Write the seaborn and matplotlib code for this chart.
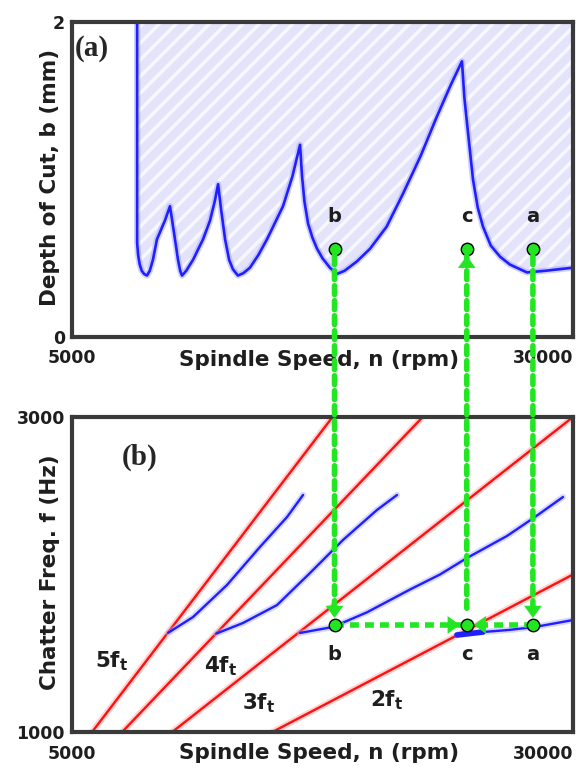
import matplotlib
matplotlib.use("Agg")
import matplotlib.pyplot as plt
import seaborn as sns
from matplotlib.patches import ConnectionPatch

# (a) stability lobe boundary
lobe_speed = [8250, 8250, 8300, 8380, 8480, 8600, 8740, 8880, 9040, 9240, 9640, 9890,
              10140, 10290, 10400, 10490, 10700, 11040, 11540, 11890, 12140, 12290,
              12440, 12640, 12840, 13030, 13280, 13550, 13880, 14300, 14730, 15530, 16000, 16380,
              16480, 16600, 16780, 17000, 17230, 17500, 17870, 18220, 18600, 19220, 19870,
              20700, 21520, 22400, 23210, 23900, 24460,
              24580, 24710, 25010, 25250, 25510, 25900, 26360, 26850, 27360, 27700, 28600, 30000]
lobe_depth = [2.00, 0.60, 0.52, 0.46, 0.42, 0.40, 0.39, 0.42, 0.49, 0.62, 0.74, 0.83,
              0.62, 0.49, 0.42, 0.39, 0.42, 0.49, 0.62, 0.74, 0.87, 0.97,
              0.81, 0.62, 0.49, 0.43, 0.39, 0.405, 0.44, 0.52, 0.62, 0.83, 1.02, 1.22,
              1.02, 0.86, 0.72, 0.63, 0.56, 0.50, 0.44, 0.40, 0.42, 0.48, 0.56,
              0.70, 0.91, 1.15, 1.40, 1.60, 1.75,
              1.52, 1.36, 1.00, 0.82, 0.70, 0.58, 0.51, 0.46, 0.43, 0.41, 0.42, 0.44]

# (b) tooth passing harmonics (red), end points
harm_labels = ["5f", "4f", "3f", "2f"]
harm_speed = [[6000, 18000], [7500, 22500], [10000, 30000], [15000, 30000]]
harm_freq = [[1000, 3000], [1000, 3000], [1000, 3000], [1000, 2000]]
harm_label_speed = [7000, 12400, 14300, 20700]
harm_label_freq = [1450, 1420, 1185, 1200]

# (b) chatter frequency branches (blue)
chat_speed = [[9800, 11040, 12730, 14380, 15730, 16530],
              [12200, 13530, 15230, 16880, 18520, 20220, 21220],
              [16380, 18020, 19720, 21870, 23360, 24710, 26710, 28100, 29500],
              [24210, 25510, 26800, 28100, 30000]]
chat_freq = [[1630, 1730, 1933, 2175, 2365, 2505],
             [1625, 1692, 1806, 2010, 2219, 2410, 2505],
             [1629, 1667, 1760, 1905, 2000, 2105, 2245, 2365, 2492],
             [1616, 1635, 1648, 1667, 1711]]

# operating points
pt_names = ["b", "c", "a"]
pt_speed = [18100, 24700, 28000]
pt_depth = 0.56
pt_freq = 1680

GREEN = "#22e622"
BLUE = "#1f1fff"
RED = "#ff1010"
INK = "#1e1e1e"

sns.set_style("white")
plt.rcParams["font.family"] = ["DejaVu Sans"]
plt.rcParams["font.weight"] = "bold"
plt.rcParams["hatch.linewidth"] = 2.5

fig = plt.figure(figsize=(5.82, 7.69), dpi=100)
ax1 = fig.add_axes([0.1237, 0.5618, 0.8608, 0.4096])
ax2 = fig.add_axes([0.1237, 0.0481, 0.8608, 0.4096])


def curve(ax, xs, ys, color, halo, lw=1.7):
    ax.plot(xs, ys, color=halo, lw=4.5, alpha=0.45, solid_capstyle="round")
    sns.lineplot(x=xs, y=ys, ax=ax, color=color, lw=lw, sort=False, estimator=None)


# ---- (a) stability lobes
ax1.fill_between(lobe_speed, lobe_depth, 2.0, facecolor="#e3e3fa",
                 edgecolor="#f7f7ff", linewidth=0, hatch="//")
curve(ax1, lobe_speed, lobe_depth, BLUE, "#9a9aff", lw=1.9)

# ---- (b) chatter frequencies
for xs, ys in zip(harm_speed, harm_freq):
    curve(ax2, xs, ys, RED, "#ff9a9a")
for xs, ys in zip(chat_speed, chat_freq):
    curve(ax2, xs, ys, BLUE, "#a8a8ff")
ax2.plot(chat_speed[3][:2], chat_freq[3][:2], color=BLUE, lw=4)
for lab, x, y in zip(harm_labels, harm_label_speed, harm_label_freq):
    ax2.text(x, y, lab + r"$_{\mathbf{t}}$", fontsize=15.5, fontweight="bold",
             color=INK, ha="center", va="center")

# horizontal arrows b -> c and a -> c
dash = (0, (1.6, 1.1))
GLW = 4
ax2.plot([pt_speed[0], pt_speed[1]], [pt_freq, pt_freq], color=GREEN, lw=GLW, linestyle=dash)
ax2.plot([pt_speed[2], pt_speed[1]], [pt_freq, pt_freq], color=GREEN, lw=GLW, linestyle=dash)
head = dict(arrowstyle="-|>,head_length=0.55,head_width=0.4", color=GREEN, lw=0,
            mutation_scale=16, shrinkA=0, shrinkB=5)
ax2.annotate("", xy=(pt_speed[1], pt_freq), xytext=(-14, 0), textcoords="offset points",
             arrowprops=head, zorder=6)
ax2.annotate("", xy=(pt_speed[1], pt_freq), xytext=(14, 0), textcoords="offset points",
             arrowprops=head, zorder=6)

# vertical links between the two panels
for name, s in zip(pt_names, pt_speed):
    con = ConnectionPatch(xyA=(s, pt_depth), coordsA=ax1.transData,
                          xyB=(s, pt_freq), coordsB=ax2.transData,
                          color=GREEN, lw=GLW, linestyle=dash, arrowstyle="-",
                          shrinkA=5, shrinkB=12, zorder=5)
    fig.add_artist(con)
    if name == "c":
        ax1.annotate("", xy=(s, pt_depth), xytext=(0, -14), textcoords="offset points",
                     arrowprops=head, zorder=6)
    else:
        ax2.annotate("", xy=(s, pt_freq), xytext=(0, 14), textcoords="offset points",
                     arrowprops=head, zorder=6)
    ax1.annotate(name, (s, pt_depth), xytext=(0, 23), textcoords="offset points",
                 ha="center", va="center", fontsize=14, color=INK)
    ax2.annotate(name, (s, pt_freq), xytext=(0, -21), textcoords="offset points",
                 ha="center", va="center", fontsize=14, color=INK)

sns.scatterplot(x=pt_speed, y=[pt_depth] * 3, ax=ax1, color=GREEN, s=80,
                edgecolor="black", linewidth=1, zorder=7)
sns.scatterplot(x=pt_speed, y=[pt_freq] * 3, ax=ax2, color=GREEN, s=80,
                edgecolor="black", linewidth=1, zorder=7)

# ---- axes cosmetics
for ax, ylims, ylab, ycoord, xcoord in [
        (ax1, (0, 2), "Depth of Cut, b (mm)", 0.506, -0.073),
        (ax2, (1000, 3000), "Chatter Freq. f (Hz)", 0.508, -0.067)]:
    ax.set_xlim(5000, 30000)
    ax.set_ylim(*ylims)
    ax.set_xticks([5000, 30000])
    ax.set_xticklabels(["5000", "30000"])
    ax.get_xticklabels()[1].set_horizontalalignment("right")
    ax.set_yticks(list(ylims))
    ax.set_yticklabels([str(v) for v in ylims])
    ax.tick_params(axis="x", length=0, pad=9, labelsize=12.5, colors=INK)
    ax.tick_params(axis="y", length=0, pad=5, labelsize=12.5, colors=INK)
    for t in ax.get_xticklabels() + ax.get_yticklabels():
        t.set_fontweight("bold")
    ax.set_xlabel("Spindle Speed, n (rpm)", fontsize=15.5, fontweight="bold", color=INK)
    ax.set_ylabel(ylab, fontsize=15.5, fontweight="bold", color=INK)
    ax.xaxis.set_label_coords(0.493, xcoord)
    ax.xaxis.label.set_va("center")
    ax.yaxis.set_label_coords(-0.044, ycoord)
    ax.yaxis.label.set_va("center")
    for sp in ax.spines.values():
        sp.set_color("#3a3a3a")
        sp.set_linewidth(3)
        sp.set_visible(True)

ax1.text(0.04, 0.917, "(a)", transform=ax1.transAxes, fontsize=21, fontweight="bold",
         family="Liberation Serif", ha="center", va="center")
ax2.text(0.134, 0.873, "(b)", transform=ax2.transAxes, fontsize=21, fontweight="bold",
         family="Liberation Serif", ha="center", va="center")

fig.savefig("out.png", dpi=100)
